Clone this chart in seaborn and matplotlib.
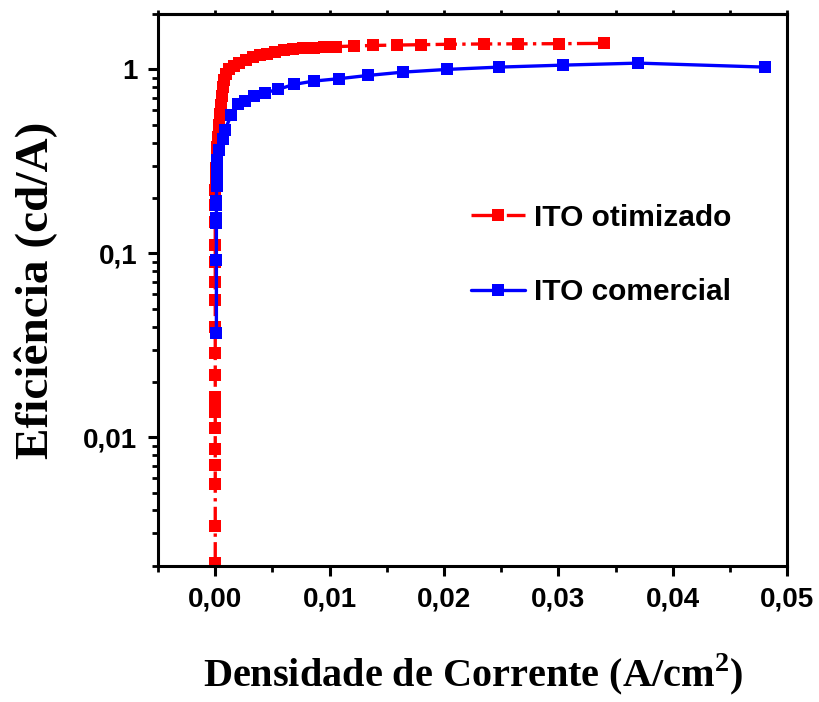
import numpy as np
import pandas as pd
import seaborn as sns
from matplotlib import pyplot as plt
from matplotlib import ticker

# ITO otimizado (vermelho)
x_otimizado = [0.0, 0.0, 0.0, 0.0, 0.0, 0.0, 0.0, 0.0, 0.0, 0.0, 0.0, 0.0, 0.0, 0.0,
               0.0, 0.0, 0.0, 0.0, 0.00002, 0.00005, 0.00008, 0.00012, 0.00018, 0.00025,
               0.00032, 0.0004, 0.0005, 0.0006, 0.0007, 0.0008, 0.0009, 0.0012, 0.0016,
               0.0021, 0.0027, 0.0033, 0.0039, 0.0045, 0.0052, 0.006, 0.0068, 0.0077,
               0.0086, 0.0095, 0.01055, 0.0121, 0.0138, 0.0159, 0.018, 0.0205, 0.0235,
               0.0265, 0.0301, 0.034]
y_otimizado = [0.00206, 0.0033, 0.0056, 0.0071, 0.0086, 0.0112, 0.0137, 0.0149, 0.0165,
               0.0218, 0.0287, 0.0398, 0.0558, 0.070, 0.090, 0.111, 0.148, 0.184, 0.22,
               0.25, 0.29, 0.33, 0.38, 0.43, 0.50, 0.57, 0.64, 0.72, 0.80, 0.88, 0.95,
               1.00, 1.05, 1.09, 1.13, 1.17, 1.20, 1.22, 1.25, 1.27, 1.285, 1.30, 1.31,
               1.32, 1.33, 1.34, 1.35, 1.356, 1.363, 1.37, 1.375, 1.377, 1.38, 1.385]

# ITO comercial (azul)
x_comercial = [0.0001, 0.0001, 0.0001, 0.0001, 0.0001, 0.0001, 0.00012, 0.00015, 0.00015,
               0.00018, 0.00035, 0.00064, 0.00087, 0.0014, 0.00198, 0.00256, 0.00335,
               0.00431, 0.00548, 0.00685, 0.0086, 0.0108, 0.01335, 0.01646, 0.0203,
               0.0248, 0.0304, 0.037, 0.0481]
y_comercial = [0.037, 0.092, 0.146, 0.155, 0.184, 0.192, 0.231, 0.26, 0.285, 0.323, 0.366,
               0.416, 0.471, 0.568, 0.645, 0.672, 0.716, 0.746, 0.778, 0.828, 0.864, 0.89,
               0.927, 0.967, 1.0, 1.029, 1.055, 1.082, 1.029]

y_ticks = [0.01, 0.1, 1]
y_tick_labels = ['0,01', '0,1', '1']

df_otim = pd.DataFrame({'J': x_otimizado, 'Ef': y_otimizado})
df_com = pd.DataFrame({'J': x_comercial, 'Ef': y_comercial})

sns.set_style('ticks', {'axes.edgecolor': 'black', 'text.color': 'black',
                        'xtick.color': 'black', 'ytick.color': 'black',
                        'axes.labelcolor': 'black'})
plt.rcParams['font.family'] = ['Liberation Sans', 'DejaVu Sans']
plt.rcParams['mathtext.fontset'] = 'custom'
plt.rcParams['mathtext.bf'] = 'Liberation Serif:bold'

fig = plt.figure(figsize=(8.19, 7.02), dpi=100)
ax = fig.add_axes([0.193, 0.194, 0.768, 0.786])

sns.lineplot(data=df_otim, x='J', y='Ef', sort=False, estimator=None, ax=ax,
             color='#ff0000', linestyle='-.', linewidth=2.4, marker='s',
             markersize=8.5, markeredgewidth=0, label='ITO otimizado')
sns.lineplot(data=df_com, x='J', y='Ef', sort=False, estimator=None, ax=ax,
             color='#0000ff', linestyle='-', linewidth=2.4, marker='s',
             markersize=8.5, markeredgewidth=0, label='ITO comercial')

ax.set_yscale('log')
ax.set_xlim(-0.005, 0.05)
ax.set_ylim(0.002, 2.0)

ax.xaxis.set_major_locator(ticker.MultipleLocator(0.01))
ax.xaxis.set_minor_locator(ticker.MultipleLocator(0.005))
ax.xaxis.set_major_formatter(ticker.FuncFormatter(lambda v, p: f'{v:.2f}'.replace('.', ',')))
ax.yaxis.set_major_locator(ticker.FixedLocator(y_ticks))
ax.yaxis.set_major_formatter(ticker.FixedFormatter(y_tick_labels))
ax.yaxis.set_minor_locator(ticker.LogLocator(base=10, subs=np.arange(2, 10)))
ax.yaxis.set_minor_formatter(ticker.NullFormatter())

for s in ax.spines.values():
    s.set_linewidth(2.2)
    s.set_color('black')
ax.tick_params(which='major', direction='out', length=7, width=2.2, labelsize=20,
               pad=8, colors='black')
ax.tick_params(which='minor', direction='out', length=4, width=2.0, colors='black')
for lab in ax.get_xticklabels() + ax.get_yticklabels():
    lab.set_fontweight('bold')

top = ax.secondary_xaxis('top')
top.xaxis.set_major_locator(ticker.MultipleLocator(0.005))
top.tick_params(direction='out', length=3, width=2.0, labeltop=False, colors='black')
top.spines['top'].set_linewidth(2.2)
top.spines['top'].set_color('black')

ax.set_xlabel(r'Densidade de Corrente (A/cm$^\mathbf{2}$)', fontsize=29,
              fontweight='bold', family='Liberation Serif', labelpad=28, color='black')
ax.set_ylabel('Eficiência (cd/A)', fontsize=34, fontweight='bold',
              family='Liberation Serif', labelpad=18, color='black')

leg = ax.legend(loc='upper left', bbox_to_anchor=(0.455, 0.705), frameon=False,
                prop={'family': 'Liberation Sans', 'weight': 'bold', 'size': 21.5},
                handlelength=1.8, handletextpad=0.3, labelspacing=1.55)
for t in leg.get_texts():
    t.set_color('black')

fig.savefig('out.png', dpi=100)
